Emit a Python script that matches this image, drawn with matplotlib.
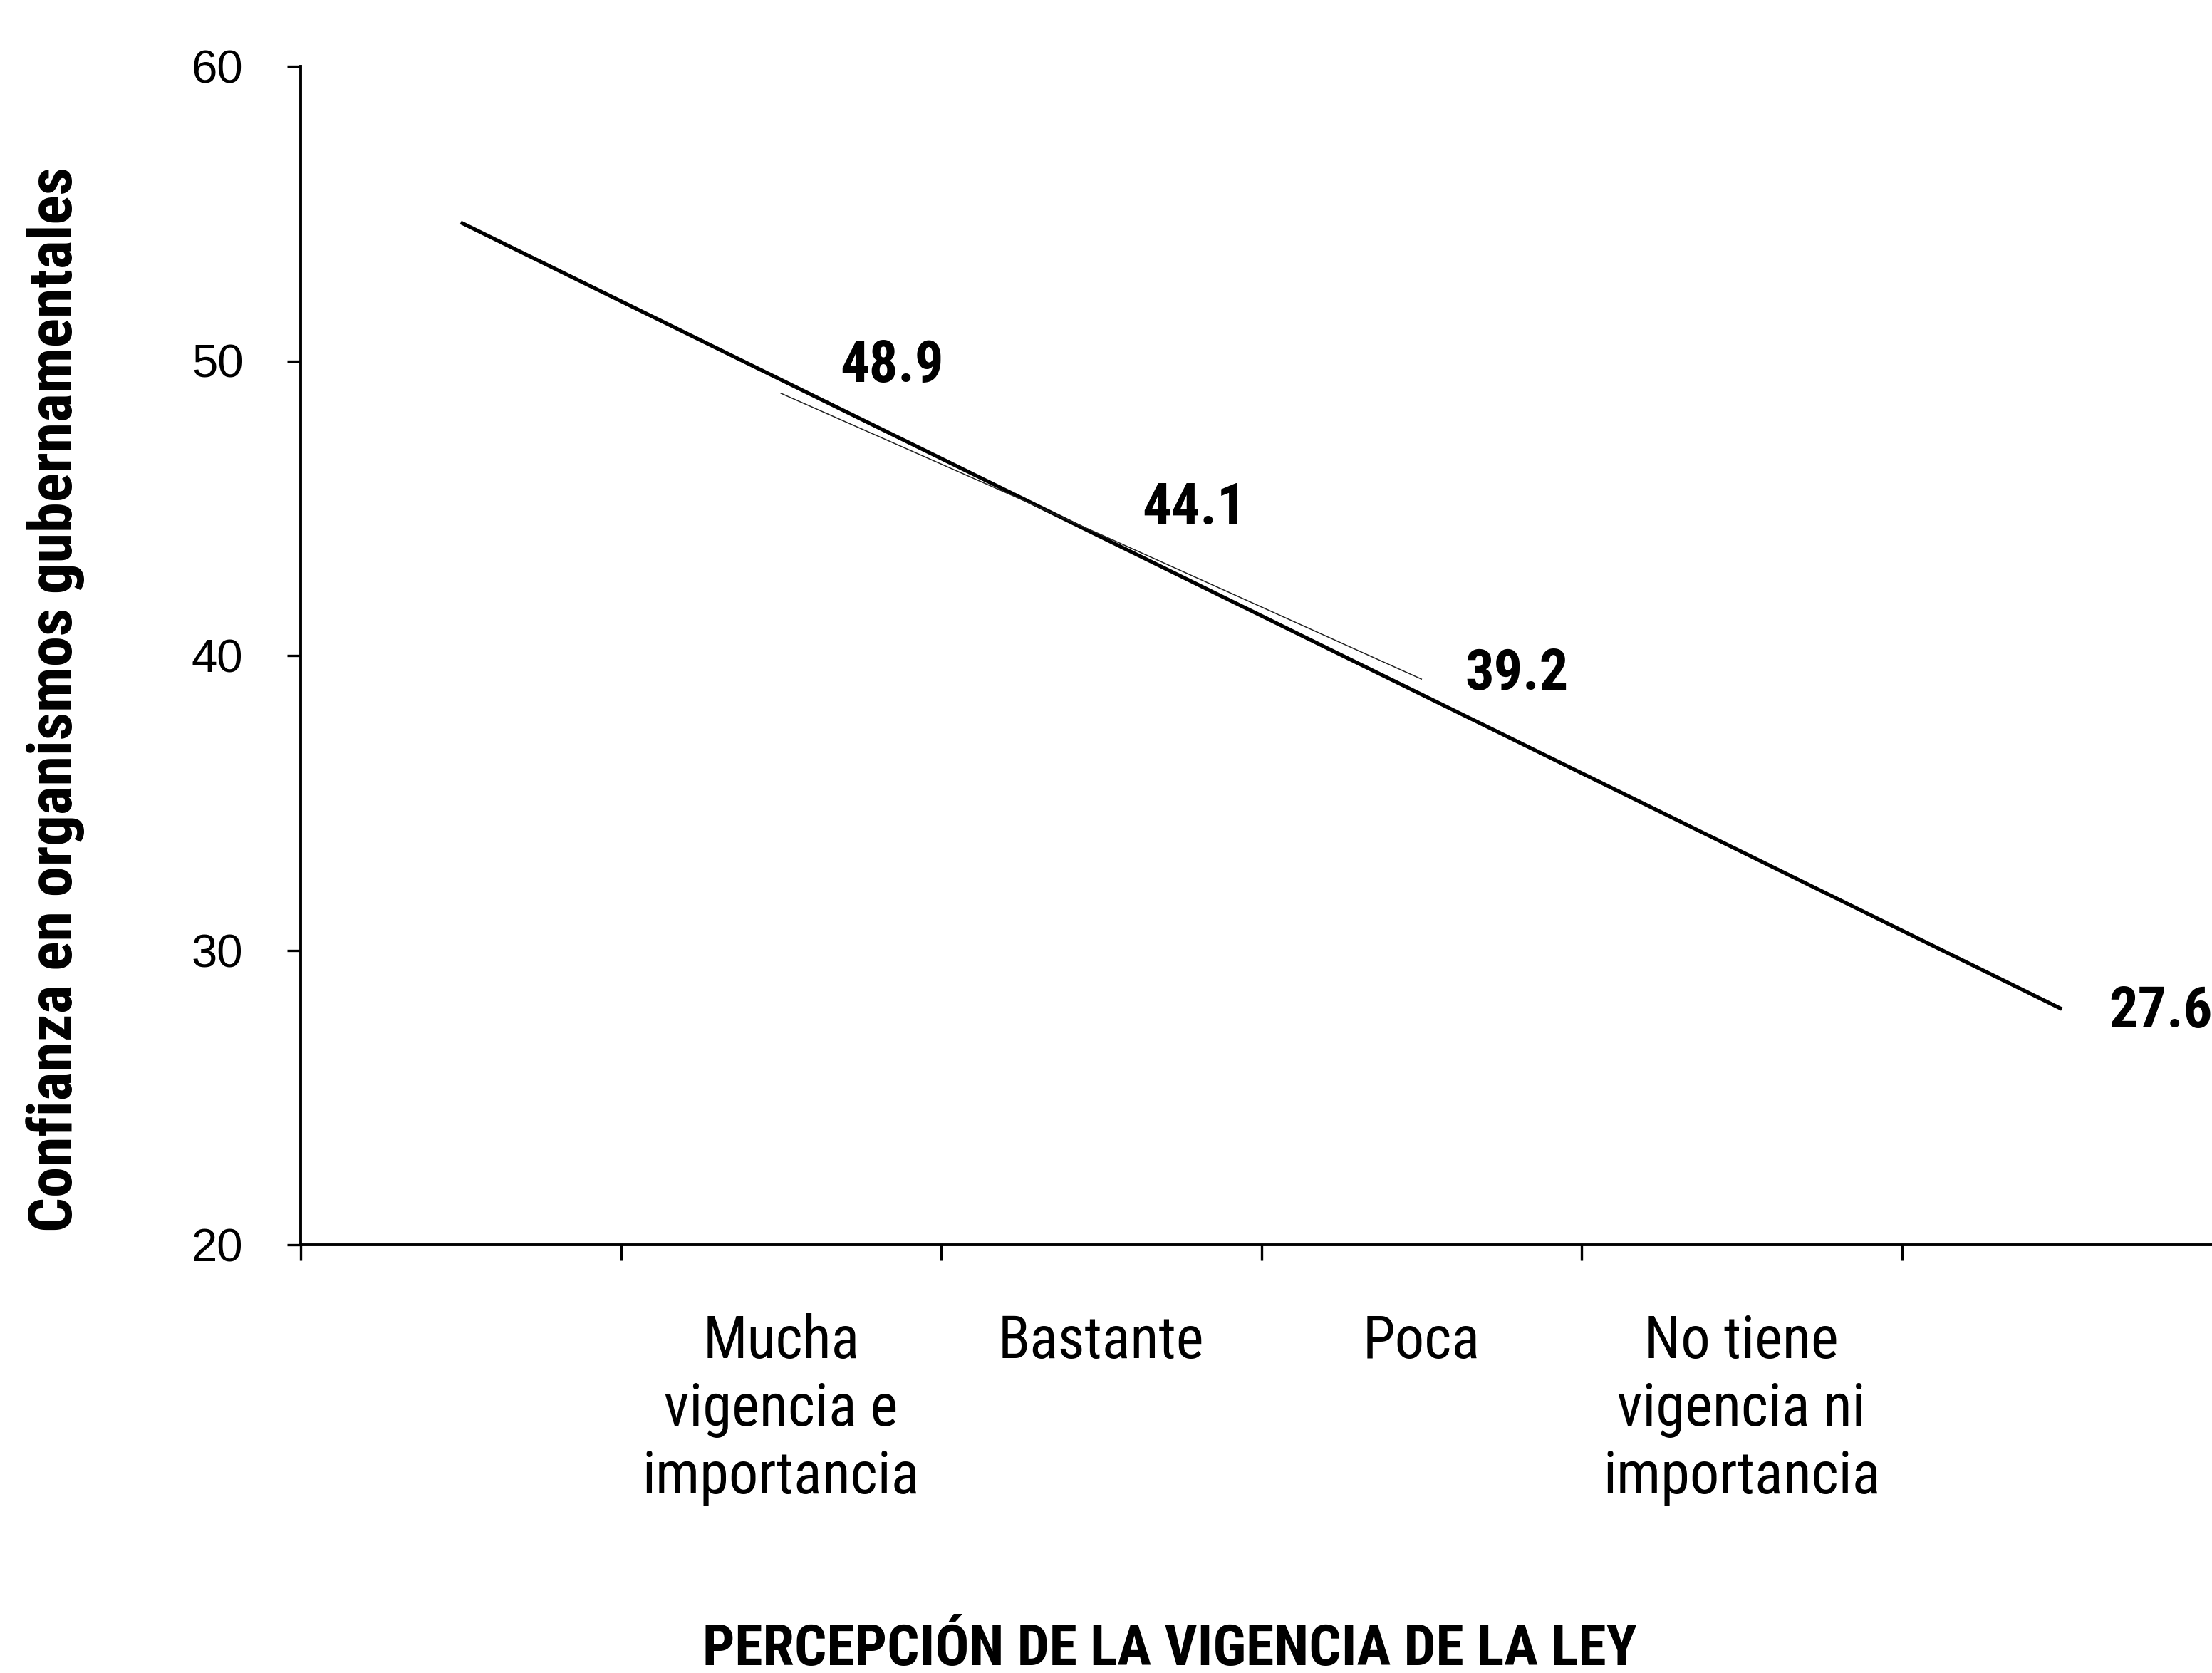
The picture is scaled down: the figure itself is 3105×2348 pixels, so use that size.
import matplotlib
matplotlib.use("Agg")
import matplotlib.pyplot as plt
from matplotlib import font_manager

# ---- data ----
categories = ["Mucha\nvigencia e\nimportancia", "Bastante", "Poca",
              "No tiene\nvigencia ni\nimportancia"]
values = [48.9, 44.1, 39.2, 27.6]
thin_series = [48.9, 44.1, 39.2]          # thin connecting line (first three categories)
trend_values = [54.7, 28.0]               # thick line endpoints
y_ticks = [20, 30, 40, 50, 60]
y_label = "Confianza en organismos gubernamentales"
x_label = "PERCEPCIÓN DE LA VIGENCIA DE LA LEY"

# ---- fonts ----
names = {f.name for f in font_manager.fontManager.ttflist}
narrow = next((n for n in ["Liberation Sans Narrow", "Arial Narrow", "Roboto Condensed",
                           "Archivo Narrow", "PT Sans Narrow", "Asap Condensed",
                           "Barlow Semi Condensed"] if n in names), "DejaVu Sans")
regular = "Liberation Sans" if "Liberation Sans" in names else "DejaVu Sans"

W, H = 3105, 2348
fig = plt.figure(figsize=(W / 100, H / 100), dpi=100)
fig.patch.set_facecolor("white")
ax = fig.add_axes([422 / W, 1 - 1747 / H, 2697 / W, 1654 / H])

# category slots: slot 0 empty, categories in slots 1..4, slot 5 empty
cat_pos = [i + 1.5 for i in range(len(categories))]
trend_pos = [0.5, 5.5]

ax.plot(trend_pos, trend_values, color="black", lw=3.8, solid_capstyle="butt", zorder=3)
ax.plot(cat_pos[:len(thin_series)], thin_series, color="#222222", lw=1.1, zorder=4)

# value labels (anchor: category point; last one anchors at thick line end)
anchors_x = cat_pos[:3] + [trend_pos[1]]
offsets = [(112, 27), (94, 26), (96, 5), (100, 9)]
vlabels = []
for xa, v, off in zip(anchors_x, values, offsets):
    t = ax.annotate(f"{v:.1f}", xy=(xa, v), xytext=off, textcoords="offset points",
                    ha="center", va="center", fontsize=62, fontweight="bold",
                    family=narrow, annotation_clip=False)
    vlabels.append(t)

ax.set_xlim(0, 6)
ax.set_ylim(20, 60)

ax.spines["top"].set_visible(False)
ax.spines["right"].set_visible(False)
for s in ("left", "bottom"):
    ax.spines[s].set_linewidth(2.8)

ax.set_yticks(y_ticks)
ax.set_yticklabels([str(t) for t in y_ticks], fontsize=47, family=regular)
ax.tick_params(axis="y", direction="out", length=14, width=2.4, pad=44)

ax.set_xticks(range(0, 6))
ax.set_xticklabels([""] * 6)
ax.tick_params(axis="x", which="major", direction="out", length=16, width=2.4)
ax.set_xticks(cat_pos, minor=True)
ax.set_xticklabels(categories, minor=True, fontsize=60, family=narrow, linespacing=1.24)
ax.tick_params(axis="x", which="minor", length=0, pad=69)

ylab = fig.text(78 / W, 1 - 982 / H, y_label, rotation=90, ha="center", va="center",
                fontsize=64, fontweight="bold", family=narrow)
xlab = fig.text(1642 / W, 1 - 2316 / H, x_label, ha="center", va="center",
                fontsize=58, fontweight="bold", family=narrow)

# fit text sizes to the measured reference widths (pixels)
fig.canvas.draw()
r = fig.canvas.get_renderer()

def fit(t, target, use_height=False, extra=1.0):
    bb = t.get_window_extent(r)
    cur = bb.height if use_height else bb.width
    t.set_fontsize(t.get_fontsize() * target / cur * extra)

fit(ylab, 1495, use_height=True)
fit(xlab, 1312)
for t in vlabels:
    fit(t, 140, extra=1.04)
cat_labels = ax.get_xticklabels(minor=True)
bb0 = cat_labels[0].get_window_extent(r)
scale = 371 / bb0.width * 1.05
for t in cat_labels:
    t.set_fontsize(t.get_fontsize() * scale)

fig.savefig("out.png", dpi=100, facecolor="white")
